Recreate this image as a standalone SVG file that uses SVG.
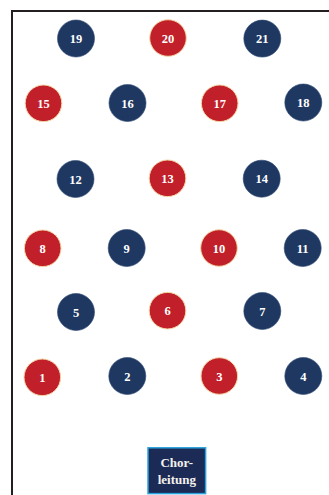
<svg xmlns="http://www.w3.org/2000/svg" width="329" height="495" viewBox="0 0 329 495">
<style>
.r{fill:#c1202a;stroke:#f4d7a8;stroke-width:1}
.b{fill:#1f3862;stroke:#2a4670;stroke-width:0.6}
.t{font-family:"Liberation Serif",serif;font-weight:bold;font-size:12.5px;fill:#ffffff;text-anchor:middle}
.lt{font-family:"Liberation Serif",serif;font-weight:bold;font-size:13px;fill:#f4f2ee;text-anchor:middle}
</style>
<rect width="329" height="495" fill="#ffffff"/>
<path d="M12,495 V11 H329" fill="none" stroke="#231f20" stroke-width="2"/>
<g id="n19"><circle class="b" cx="76" cy="38.5" r="18.5"/><text class="t" x="76" y="43">19</text></g>
<g id="n20"><circle class="r" cx="168" cy="38" r="18.3"/><text class="t" x="168" y="42.5">20</text></g>
<g id="n21"><circle class="b" cx="262.3" cy="38.6" r="18.5"/><text class="t" x="262.3" y="43">21</text></g>
<g id="n15"><circle class="r" cx="43.5" cy="103.3" r="18.3"/><text class="t" x="43.5" y="107.8">15</text></g>
<g id="n16"><circle class="b" cx="127.5" cy="103" r="18.5"/><text class="t" x="127.5" y="107.5">16</text></g>
<g id="n17"><circle class="r" cx="219.7" cy="103.3" r="18.3"/><text class="t" x="219.7" y="107.8">17</text></g>
<g id="n18"><circle class="b" cx="303.3" cy="102.5" r="18.5"/><text class="t" x="303.3" y="107">18</text></g>
<g id="n12"><circle class="b" cx="75.5" cy="179" r="18.5"/><text class="t" x="75.5" y="183.5">12</text></g>
<g id="n13"><circle class="r" cx="167.5" cy="178.3" r="18.3"/><text class="t" x="167.5" y="182.8">13</text></g>
<g id="n14"><circle class="b" cx="261.7" cy="178.7" r="18.5"/><text class="t" x="261.7" y="183.2">14</text></g>
<g id="n8"><circle class="r" cx="42.7" cy="248.3" r="18.3"/><text class="t" x="42.7" y="252.8">8</text></g>
<g id="n9"><circle class="b" cx="126.7" cy="248" r="18.5"/><text class="t" x="126.7" y="252.5">9</text></g>
<g id="n10"><circle class="r" cx="219" cy="248" r="18.3"/><text class="t" x="219" y="252.5">10</text></g>
<g id="n11"><circle class="b" cx="302.7" cy="248" r="18.5"/><text class="t" x="302.7" y="252.5">11</text></g>
<g id="n5"><circle class="b" cx="76" cy="312" r="18.5"/><text class="t" x="76" y="316.5">5</text></g>
<g id="n6"><circle class="r" cx="167.5" cy="310.7" r="18.3"/><text class="t" x="167.5" y="315.2">6</text></g>
<g id="n7"><circle class="b" cx="262.3" cy="311" r="18.5"/><text class="t" x="262.3" y="315.5">7</text></g>
<g id="n1"><circle class="r" cx="42.3" cy="377.3" r="18.3"/><text class="t" x="42.3" y="381.8">1</text></g>
<g id="n2"><circle class="b" cx="127.3" cy="376" r="18.5"/><text class="t" x="127.3" y="380.5">2</text></g>
<g id="n3"><circle class="r" cx="219.3" cy="376" r="18.3"/><text class="t" x="219.3" y="380.5">3</text></g>
<g id="n4"><circle class="b" cx="303.3" cy="376" r="18.5"/><text class="t" x="303.3" y="380.5">4</text></g>
<g id="chorleitung"><rect x="148" y="447.8" width="57.6" height="45.8" fill="#1c2a56" stroke="#2aa3dc" stroke-width="1.5"/><text class="lt" x="176.8" y="467.3">Chor-</text><text class="lt" x="176.8" y="484.2">leitung</text></g>
<g id="connectors"></g>
</svg>
